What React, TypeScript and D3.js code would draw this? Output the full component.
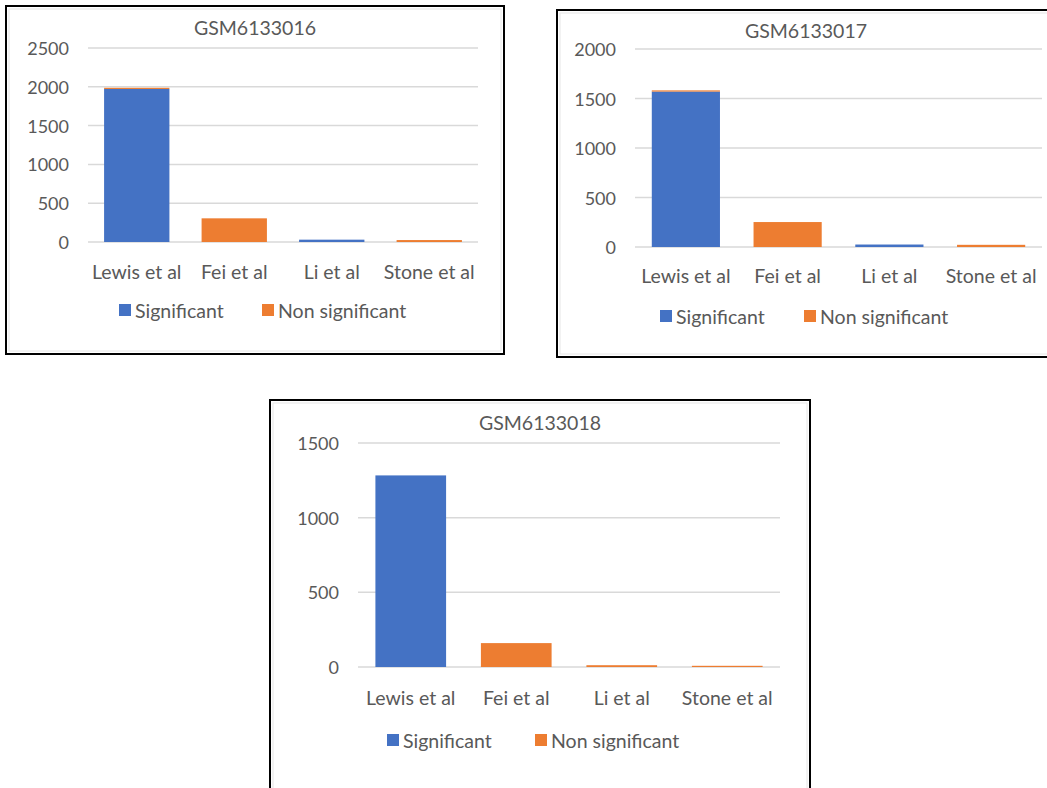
import React from "react";
import * as d3 from "d3";

const categories = ["Lewis et al", "Fei et al", "Li et al", "Stone et al"];
const seriesNames = ["Significant", "Non significant"];
const seriesColors = ["#4472C4", "#ED7D31"];

const title16 = "GSM6133016";
const sig16 = [1972, 0, 30, 0];
const non16 = [15, 305, 0, 25];
const ticks16 = [0, 500, 1000, 1500, 2000, 2500];

const title17 = "GSM6133017";
const sig17 = [1570, 0, 25, 0];
const non17 = [12, 252, 0, 22];
const ticks17 = [0, 500, 1000, 1500, 2000];

const title18 = "GSM6133018";
const sig18 = [1283, 0, 0, 0];
const non18 = [0, 160, 12, 8];
const ticks18 = [0, 500, 1000, 1500];

const FONT = "Lato, 'Open Sans', sans-serif";
const TXT = "#595959";
const LABEL_SIZE = 19.5;
const TICK_SIZE = 18;

type Layout = {
  box: [number, number, number, number];
  px0: number; px1: number; py0: number; py1: number;
  titleX: number; titleY: number; xLabelY: number; legendY: number;
  legendX: [number, number];
};

function Chart({ title, sig, non, ticks, L }: { title: string; sig: number[]; non: number[]; ticks: number[]; L: Layout }) {
  const x = d3.scaleBand<string>().domain(categories).range([L.px0, L.px1]).paddingInner(0.33).paddingOuter(0.165);
  const y = d3.scaleLinear().domain([0, ticks[ticks.length - 1]]).range([L.py0, L.py1]);
  const rows = categories.map((c, i) => ({ cat: c, Significant: sig[i], "Non significant": non[i] }));
  const stacked = d3.stack<any>().keys(seriesNames)(rows);
  const [bx, by, bw, bh] = L.box;
  return (
    <g>
      <rect x={bx} y={by} width={bw} height={bh} fill="#fff" stroke="#000" strokeWidth={2} />
      <rect x={bx + 3} y={by + 3} width={bw - 6} height={bh - 6} fill="none" stroke="#E6E6E6" strokeWidth={1} />
      <text x={L.titleX} y={L.titleY} textAnchor="middle" dominantBaseline="central" fontFamily={FONT} fontSize={LABEL_SIZE} fill={TXT}>{title}</text>
      {ticks.map((t) => (
        <g key={t}>
          <line x1={L.px0} x2={L.px1} y1={y(t)} y2={y(t)} stroke="#D9D9D9" strokeWidth={1.5} />
          <text x={L.px0 - 19} y={y(t)} textAnchor="end" dominantBaseline="central" fontFamily={FONT} fontSize={TICK_SIZE} fill={TXT}>{t}</text>
        </g>
      ))}
      {stacked.map((s, si) => (
        <g key={si} fill={seriesColors[si]}>
          {s.map((d, i) => (
            <rect key={i} x={x(categories[i])} width={x.bandwidth()} y={y(d[1])} height={Math.max(0, y(d[0]) - y(d[1]))} />
          ))}
        </g>
      ))}
      {categories.map((c) => (
        <text key={c} x={(x(c) as number) + x.bandwidth() / 2} y={L.xLabelY} textAnchor="middle" dominantBaseline="central" fontFamily={FONT} fontSize={LABEL_SIZE} fill={TXT}>{c}</text>
      ))}
      {seriesNames.map((n, i) => (
        <g key={n}>
          <rect x={L.legendX[i]} y={L.legendY - 6} width={12} height={12} fill={seriesColors[i]} />
          <text x={L.legendX[i] + 16} y={L.legendY} dominantBaseline="central" fontFamily={FONT} fontSize={LABEL_SIZE} fill={TXT}>{n}</text>
        </g>
      ))}
    </g>
  );
}

const L16: Layout = { box: [6, 6, 498, 348], px0: 88, px1: 478, py0: 242, py1: 48, titleX: 255, titleY: 27, xLabelY: 271, legendY: 310, legendX: [119, 262] };
const L17: Layout = { box: [557, 10, 500, 347], px0: 635, px1: 1042, py0: 247, py1: 49, titleX: 806, titleY: 30, xLabelY: 275, legendY: 316, legendX: [660, 804] };
const L18: Layout = { box: [270, 400, 540, 400], px0: 358, px1: 780, py0: 667, py1: 443, titleX: 540, titleY: 422, xLabelY: 697, legendY: 740, legendX: [387, 535] };

export default function App() {
  return (
    <svg width={1047} height={788} style={{ position: "absolute", left: 0, top: 0, background: "#fff" }}>
      <Chart title={title16} sig={sig16} non={non16} ticks={ticks16} L={L16} />
      <Chart title={title17} sig={sig17} non={non17} ticks={ticks17} L={L17} />
      <Chart title={title18} sig={sig18} non={non18} ticks={ticks18} L={L18} />
    </svg>
  );
}
